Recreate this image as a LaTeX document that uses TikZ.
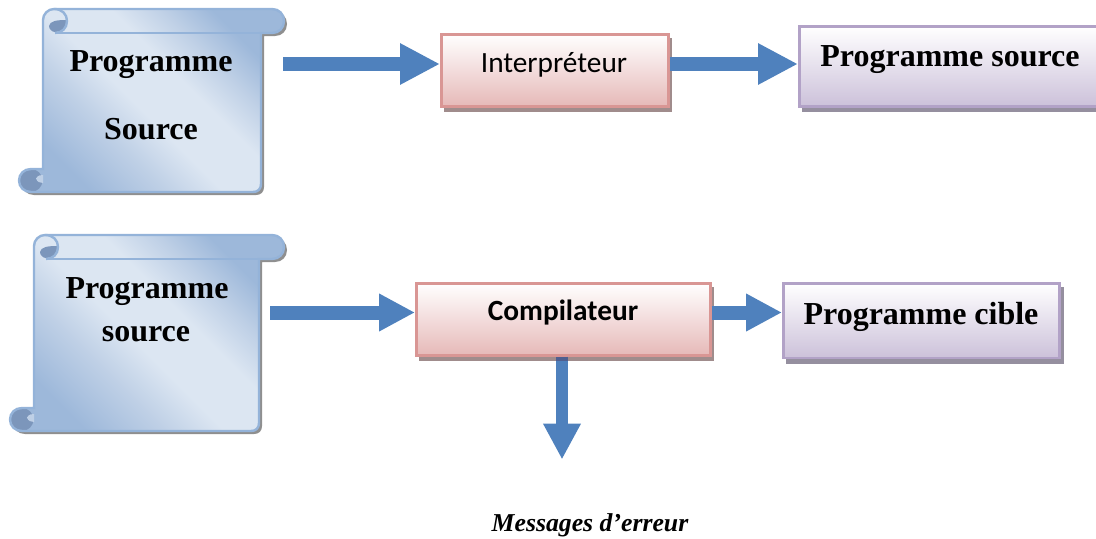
\documentclass[tikz,border=0pt]{standalone}
\usepackage{fontspec}
\setmainfont{Liberation Serif}
\newfontfamily\calibrif{Carlito}
\usetikzlibrary{arrows.meta,calc}
\definecolor{sca}{HTML}{9DB8DA}
\definecolor{scb}{HTML}{BFD0E6}
\definecolor{scc}{HTML}{DCE6F2}
\definecolor{scline}{HTML}{94B3D9}
\definecolor{curl}{HTML}{7C96BB}
\definecolor{shad}{HTML}{8F8F8F}
\definecolor{shadred}{HTML}{A08C8C}
\definecolor{shadpur}{HTML}{958F9F}
\definecolor{arrowblue}{HTML}{4F81BD}
\definecolor{overlap}{HTML}{4F5F90}
\definecolor{redline}{HTML}{D99694}
\definecolor{redfill}{HTML}{E6B9B8}
\definecolor{purpleline}{HTML}{B2A2C7}
\definecolor{purplefill}{HTML}{CCC1DA}
\pgfdeclarehorizontalshading{scrollshade}{100bp}{
 color(0bp)=(sca); color(26bp)=(sca); color(38bp)=(scb); color(47bp)=(scc); color(58bp)=(scc); color(66bp)=(scb); color(74bp)=(sca); color(100bp)=(sca)}
\newcommand{\scrollpath}[5]{% L R T B E
 (#1,#3+11) .. controls (#1,#3+5) and (#1+5,#3) .. (#1+11,#3) -- (#5-12,#3)
 .. controls (#5-5,#3) and (#5,#3+5) .. (#5,#3+12)
 .. controls (#5,#3+19) and (#5-5,#3+24) .. (#5-12,#3+24) -- (#2,#3+24) -- (#2,#4-8)
 .. controls (#2,#4-3) and (#2-3,#4) .. (#2-8,#4) -- (#1-12,#4)
 .. controls (#1-19,#4) and (#1-24,#4-5) .. (#1-24,#4-11.5)
 .. controls (#1-24,#4-18) and (#1-19,#4-23) .. (#1-12,#4-23)
 -- (#1,#4-23) -- cycle}
\newcommand{\scrollshape}[5]{%
 \fill[shad,shift={(3,3)}] \scrollpath{#1}{#2}{#3}{#4}{#5};
 \shade[shading=scrollshade,shading angle=45] \scrollpath{#1}{#2}{#3}{#4}{#5};
 % bottom curl
 \fill[curl] (#1-12,#4-11.5) circle[radius=11.5];
 \fill[scb] (#1-7,#4-13.5) .. controls (#1-5,#4-17) and (#1-2,#4-17) .. (#1,#4-17) -- (#1,#4-9) .. controls (#1-3,#4-9) and (#1-6,#4-10) .. (#1-7,#4-13.5) -- cycle;
 % top curl
 \fill[curl] (#1+6,#3+17) .. controls (#1+7,#3+12) and (#1+13,#3+11) .. (#1+24,#3+11)
   .. controls (#1+24,#3+19) and (#1+19,#3+23) .. (#1+12,#3+23)
   .. controls (#1+9,#3+23) and (#1+6,#3+20) .. (#1+6,#3+17) -- cycle;
 \draw[scline,line width=1.8] \scrollpath{#1}{#2}{#3}{#4}{#5};
 \draw[scline,line width=1.8] (#1+12,#3+24) -- (#2,#3+24);
 \draw[scline,line width=1.8] (#1+12,#3+24) .. controls (#1+19,#3+24) and (#1+24,#3+19) .. (#1+24,#3+12) .. controls (#1+24,#3+5) and (#1+19,#3) .. (#1+11,#3);
}
\tikzset{
 x=0.75pt,y=-0.75pt,
 boldtext/.style={font=\fontsize{24}{28}\selectfont\bfseries,text=black},
 txtnode/.style={boldtext,align=center,inner sep=0pt,anchor=base},
 redbox/.style={draw=redline,line width=1.9,top color=white,bottom color=redfill,inner sep=0pt,anchor=north west},
 purplebox/.style={draw=purpleline,line width=1.9,top color=white,bottom color=purplefill,inner sep=0pt,anchor=north west},
 longarrow/.style={draw=arrowblue,line width=10.5pt,-{Triangle[length=30pt,width=29pt]}},
 shortarrow/.style={draw=arrowblue,line width=9pt,-{Triangle[length=27pt,width=26.5pt]}},
}
\begin{document}
\begin{tikzpicture}
\useasboundingbox (0,0) rectangle (1096,539);
\scrollshape{43}{261}{9}{192}{284}
\scrollshape{34}{259}{235}{431}{284}
% shadows
\fill[shadred] (444,38) rectangle (672,111.5);
\fill[shadpur] (802,30) rectangle (1096,112);
\fill[shadred] (419,287) rectangle (714,361);
\fill[shadpur] (786,287) rectangle (1063.5,364);
% boxes
\node[redbox,minimum width=170.5pt,minimum height=54pt] (int) at (440,33) {};
\node[font=\calibrif\fontsize{22}{26}\selectfont,inner sep=0pt,anchor=base] (intt) at (554,72) {Interpréteur};
\node[purplebox,minimum width=232pt,minimum height=60pt] (ps) at (798,25) {};
\node[txtnode] (pst) at (950,66) {Programme source};
\node[redbox,minimum width=220.5pt,minimum height=54pt] (comp) at (415,282) {};
\node[font=\calibrif\fontsize{22}{26}\selectfont\bfseries,inner sep=0pt,anchor=base] (compt) at (563,320) {Compilateur};
\node[purplebox,minimum width=207pt,minimum height=56pt] (cib) at (782,282) {};
\node[txtnode] (cibt) at (921,324) {Programme cible};
% scroll texts
\node[txtnode] (s1a) at (151,71) {Programme};
\node[txtnode] (s1b) at (151,139) {Source};
\node[txtnode] (s2a) at (147,298) {Programme};
\node[txtnode] (s2b) at (146,341) {source};
\node[font=\fontsize{19.3}{24}\selectfont\bfseries\itshape,inner sep=0pt,anchor=base] (msg) at (590,531) {Messages d’erreur};
% connectors
\coordinate (a1) at (283,64);
\coordinate (a2) at (270,312.5);
\coordinate (a3) at (562,459.5);
\coordinate (r1) at (0,64);
\coordinate (r2) at (0,312.5);
\draw[longarrow] (a1) -- (a1 -| int.west);
\draw[longarrow] (int.east |- r1) -- (ps.west |- r1);
\draw[shortarrow,line width=10.5pt] (a2) -- (a2 -| comp.west);
\draw[shortarrow,line width=10.5pt] (comp.east |- r2) -- (cib.west |- r2);
\draw[shortarrow] (comp.south -| a3) -- (a3);
\fill[overlap] (556,357) rectangle (568,361);
\end{tikzpicture}
\end{document}
